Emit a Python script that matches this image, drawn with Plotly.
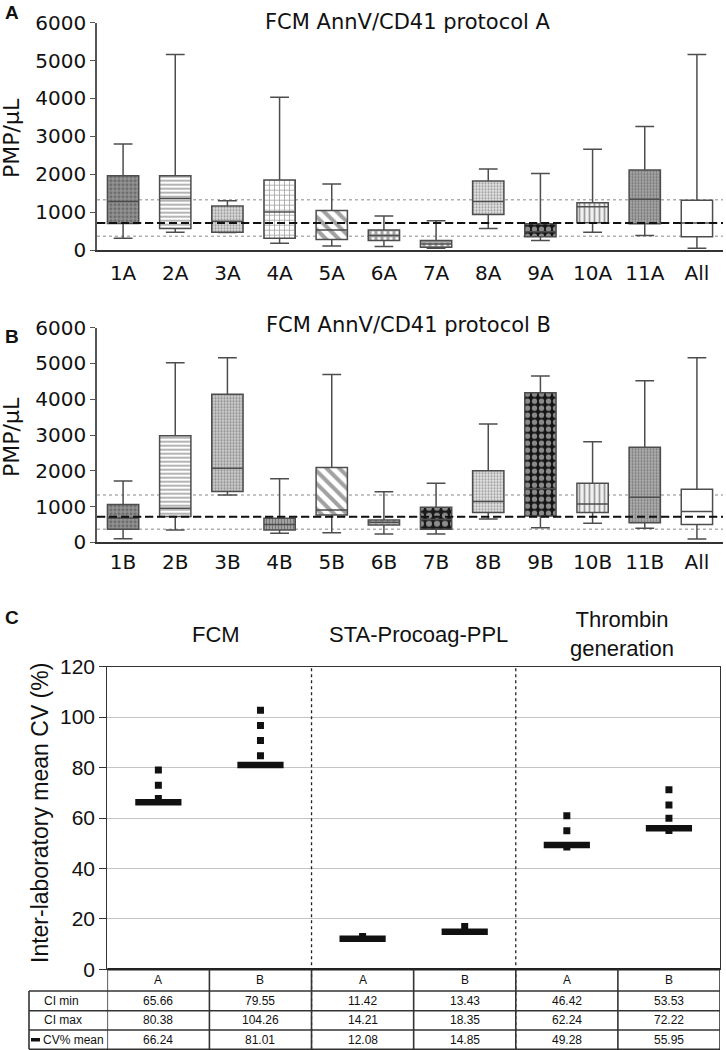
import plotly.graph_objects as go

W, H = 726, 1050

# ---------------- Panel A data (PMP/uL) ----------------
cats_a = ["1A", "2A", "3A", "4A", "5A", "6A", "7A", "8A", "9A", "10A", "11A", "All"]
a_lower = [310, 470, 460, 180, 105, 90, 45, 570, 250, 470, 380, 45]
a_q1 = [700, 570, 470, 310, 280, 250, 70, 940, 350, 720, 690, 350]
a_med = [1280, 1360, 760, 1000, 530, 380, 160, 1280, 480, 1140, 1340, 710]
a_q3 = [1960, 1960, 1160, 1850, 1040, 530, 250, 1820, 690, 1250, 2110, 1310]
a_upper = [2800, 5160, 1300, 4030, 1740, 900, 775, 2140, 2020, 2660, 3260, 5160]

# ---------------- Panel B data (PMP/uL) ----------------
cats_b = ["1B", "2B", "3B", "4B", "5B", "6B", "7B", "8B", "9B", "10B", "11B", "All"]
b_lower = [100, 345, 1320, 250, 270, 233, 233, 650, 410, 530, 390, 93]
b_q1 = [363, 720, 1420, 345, 760, 485, 363, 830, 735, 830, 550, 500]
b_med = [680, 950, 2070, 500, 900, 560, 640, 1140, 1500, 1070, 1260, 860]
b_q3 = [1060, 2980, 4140, 670, 2090, 625, 980, 2000, 4180, 1650, 2655, 1480]
b_upper = [1715, 5020, 5160, 1780, 4690, 1410, 1650, 3310, 4650, 2810, 4520, 5160]

# reference lines (same in both panels)
ref_dotted = [365, 715, 1325]
ref_dashed = 715
y_ticks_ab = [0, 1000, 2000, 3000, 4000, 5000, 6000]

# box fill patterns (style)
pat_shape_a = [".", "-", ".", "+", "\\", "+", "+", ".", ".", "|", ".", ""]
pat_fg_a = ["#1e1e1e", "#707070", "#7a7a7a", "#555555", "#1e1e1e", "#222222", "#222222", "#9a9a9a", "#ffffff", "#3a3a3a", "#3a3a3a", "#ffffff"]
pat_bg_a = ["#959595", "#ffffff", "#dcdcdc", "#ffffff", "#ffffff", "#ffffff", "#ffffff", "#e4e4e4", "#151515", "#f0f0f0", "#ababab", "#ffffff"]
pat_size_a = [4, 4, 3, 5, 9, 6, 6, 3, 7, 5, 3, 8]
pat_sol_a = [0.5, 0.4, 0.4, 0.3, 0.45, 0.75, 0.75, 0.4, 0.45, 0.35, 0.45, 0.3]

pat_shape_b = [".", "-", ".", "|", "\\", "+", ".", ".", ".", "|", ".", ""]
pat_fg_b = ["#1e1e1e", "#707070", "#666666", "#333333", "#1e1e1e", "#222222", "#ffffff", "#9a9a9a", "#ffffff", "#3a3a3a", "#555555", "#ffffff"]
pat_bg_b = ["#959595", "#ffffff", "#cccccc", "#a8a8a8", "#ffffff", "#ffffff", "#1a1a1a", "#e4e4e4", "#151515", "#f0f0f0", "#b4b4b4", "#ffffff"]
pat_size_b = [4, 4, 3, 3, 9, 6, 8, 3, 7, 5, 3, 8]
pat_sol_b = [0.5, 0.4, 0.4, 0.4, 0.45, 0.75, 0.45, 0.4, 0.45, 0.35, 0.45, 0.3]

# ---------------- Panel C data (inter-laboratory CV %) ----------------
groups = ["FCM", "STA-Procoag-PPL", "Thrombin<br>generation"]
protocols = ["A", "B", "A", "B", "A", "B"]
ci_min = [65.66, 79.55, 11.42, 13.43, 46.42, 53.53]
ci_max = [80.38, 104.26, 14.21, 18.35, 62.24, 72.22]
cv_mean = [66.24, 81.01, 12.08, 14.85, 49.28, 55.95]
pt_col = [0, 0, 0, 1, 1, 1, 1, 2, 3, 4, 4, 4, 5, 5, 5, 5]
pt_cv = [79.0, 73.0, 67.7, 102.7, 96.7, 90.7, 84.7, 13.0, 17.0, 60.9, 54.9, 48.5, 71.2, 65.2, 59.9, 55.0]
c_ticks = [0, 20, 40, 60, 80, 100, 120]
row_labels = ["CI min", "CI max", "CV% mean"]


def px(p):
    return p / W


def py(p):
    return 1 - p / H


FAB = "DejaVu Sans"
FC = "Liberation Sans, Arial, sans-serif"

fig = go.Figure()


def add_box_panel(cats, lo, q1, med, q3, up, shp, fg, bg, sz, sol, xa, ya):
    fig.add_trace(go.Bar(
        x=cats, base=q1, y=[b - a for a, b in zip(q1, q3)], width=0.6,
        marker=dict(color=bg, line=dict(width=0),
                    pattern=dict(shape=shp, fgcolor=fg, bgcolor=bg, size=sz, solidity=sol)),
        xaxis=xa, yaxis=ya, showlegend=False, hoverinfo="skip"))
    fig.add_trace(go.Box(
        x=cats, q1=q1, median=med, q3=q3, lowerfence=lo, upperfence=up,
        width=0.6, whiskerwidth=0.6, fillcolor="rgba(0,0,0,0)",
        line=dict(color="#4d4d4d", width=1.5), boxpoints=False,
        xaxis=xa, yaxis=ya, showlegend=False))


add_box_panel(cats_a, a_lower, a_q1, a_med, a_q3, a_upper,
              pat_shape_a, pat_fg_a, pat_bg_a, pat_size_a, pat_sol_a, "x", "y")
add_box_panel(cats_b, b_lower, b_q1, b_med, b_q3, b_upper,
              pat_shape_b, pat_fg_b, pat_bg_b, pat_size_b, pat_sol_b, "x2", "y2")

# Panel C points
fig.add_trace(go.Scatter(
    x=pt_col, y=pt_cv, mode="markers",
    marker=dict(symbol="square", size=7, color="#111111", line=dict(width=0)),
    xaxis="x3", yaxis="y3", showlegend=False))
fig.add_trace(go.Scatter(
    x=list(range(len(cv_mean))), y=cv_mean, mode="markers",
    marker=dict(symbol="line-ew", size=33, line=dict(width=6.5, color="#111111")),
    xaxis="x3", yaxis="y3", showlegend=False))

shapes = []
for xr, ya in [("x domain", "y"), ("x2 domain", "y2")]:
    for v in ref_dotted:
        shapes.append(dict(type="line", xref=xr, x0=0, x1=1, yref=ya, y0=v, y1=v, layer="below",
                           line=dict(color="#b0b0b0", width=1.5, dash="dot")))
    shapes.append(dict(type="line", xref=xr, x0=0, x1=1, yref=ya, y0=ref_dashed, y1=ref_dashed,
                       layer="above", line=dict(color="#111111", width=2, dash="8px,4px")))

axis_ab_x = dict(type="category", range=[-0.5, 11.5], showline=True, linecolor="#333333",
                 linewidth=2, ticks="outside", tickcolor="rgba(0,0,0,0)", showgrid=False,
                 tickfont=dict(family=FAB, size=20, color="#111111"), zeroline=False,
                 automargin=False)
axis_ab_y = dict(range=[0, 6000], tickvals=y_ticks_ab, ticks="outside", ticklen=5,
                 tickcolor="#555555", showline=True, linecolor="#555555", linewidth=1.5,
                 showgrid=False, zeroline=False, automargin=False,
                 tickfont=dict(family=FAB, size=20, color="#111111"))

# Panel C geometry (pixels)
c_left, c_right, c_top, c_bot = 107.3, 720.0, 666.7, 969.3
t_rows = [969.3, 991.0, 1010.7, 1030.0, 1049.3]
t_left = 29.0

for xs in [1.5, 3.5]:
    shapes.append(dict(type="line", xref="x3", x0=xs, x1=xs, yref="paper",
                       y0=py(t_rows[-1]), y1=py(c_top),
                       line=dict(color="#222222", width=1.3, dash="dot")))
shapes.append(dict(type="line", xref="paper", x0=px(c_left), x1=px(c_right), yref="paper",
                   y0=py(t_rows[0]), y1=py(t_rows[0]), line=dict(color="#222222", width=2.5)))
for r in t_rows[1:]:
    shapes.append(dict(type="line", xref="paper", x0=px(t_left), x1=px(c_right), yref="paper",
                       y0=py(r), y1=py(r), line=dict(color="#333333", width=1.6)))
shapes.append(dict(type="line", xref="paper", x0=px(t_left), x1=px(t_left), yref="paper",
                   y0=py(t_rows[1]), y1=py(t_rows[-1]), line=dict(color="#333333", width=1.6)))
for i in range(len(protocols) + 1):
    shapes.append(dict(type="line", xref="x3", x0=i - 0.5, x1=i - 0.5, yref="paper",
                       y0=py(t_rows[0]), y1=py(t_rows[-1]), line=dict(color="#333333", width=1.6)))
shapes.append(dict(type="rect", xref="paper", yref="paper", x0=px(31), x1=px(40),
                   y0=py(1041.5), y1=py(1038.0), fillcolor="#111111", line=dict(width=0)))

ann = []


def add_text(text, x, y, size, family, xref="paper", xanchor="center", angle=0):
    ann.append(dict(text=text, x=x, y=y, xref=xref, yref="paper", xanchor=xanchor,
                    yanchor="middle", showarrow=False, textangle=angle,
                    font=dict(family=family, size=size, color="#111111")))


add_text("<b>A</b>", px(3), py(12), 19, FC, xanchor="left")
add_text("<b>B</b>", px(3), py(337), 19, FC, xanchor="left")
add_text("<b>C</b>", px(3), py(617), 19, FC, xanchor="left")
add_text("FCM AnnV/CD41 protocol A", px(408), py(22), 21, FAB)
add_text("FCM AnnV/CD41 protocol B", px(408), py(325), 21, FAB)
for yc in [138, 437]:
    add_text("PMP/µL", px(11), py(yc), 22, FAB, angle=-90)
add_text("Inter-laboratory mean CV (%)", px(40), py(813), 23, FC, angle=-90)
group_x = [216, 418, 622]
group_y = [634, 634, 634]
for g, gx, gy in zip(groups, group_x, group_y):
    add_text(g, px(gx), py(gy), 22, FC)
for i, p in enumerate(protocols):
    add_text(p, i, py((t_rows[0] + t_rows[1]) / 2), 12, FC, xref="x3")
for r, (lab, vals) in enumerate(zip(row_labels, [ci_min, ci_max, cv_mean])):
    yc = py((t_rows[r + 1] + t_rows[r + 2]) / 2)
    add_text(lab, px(42 if r < 2 else 40.5), yc, 12, FC, xanchor="left")
    for i, v in enumerate(vals):
        add_text(f"{v:.2f}", i, yc, 12, FC, xref="x3")

fig.update_layout(
    width=W, height=H, margin=dict(l=0, r=0, t=0, b=0, autoexpand=False),
    paper_bgcolor="white", plot_bgcolor="white", showlegend=False,
    xaxis=dict(axis_ab_x, domain=[px(97), px(723)], anchor="y", ticklen=4),
    yaxis=dict(axis_ab_y, domain=[py(250), py(22.7)], anchor="x"),
    xaxis2=dict(axis_ab_x, domain=[px(97), px(723)], anchor="y2", ticklen=1),
    yaxis2=dict(axis_ab_y, domain=[py(542.3), py(327.7)], anchor="x2"),
    xaxis3=dict(domain=[px(c_left), px(c_right)], anchor="y3", range=[-0.5, 5.5],
                showticklabels=False, ticks="", showgrid=False, zeroline=False, automargin=False,
                showline=True, mirror=True, linecolor="#333333", linewidth=1.2),
    yaxis3=dict(domain=[py(c_bot), py(c_top)], anchor="x3", range=[0, 120], tickvals=c_ticks,
                ticks="outside", ticklen=7, tickcolor="#333333", showgrid=True, automargin=False,
                gridcolor="#c4c4c4", gridwidth=1.2, zeroline=False, showline=True, mirror=True,
                linecolor="#333333", linewidth=1.2,
                tickfont=dict(family=FC, size=21, color="#111111")),
    shapes=shapes, annotations=ann,
)

fig.write_html("out.html", config={"displayModeBar": False},
               post_script="document.body.style.margin='0px';")
